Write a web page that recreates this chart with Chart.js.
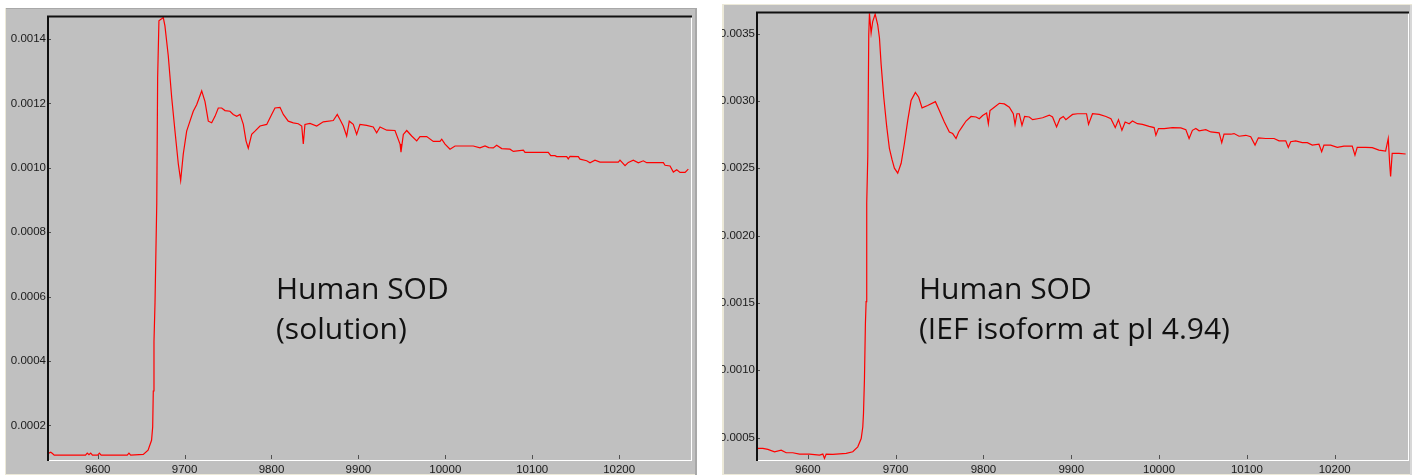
<!DOCTYPE html>
<html>
<head>
<meta charset="utf-8">
<script src="https://cdn.jsdelivr.net/npm/chart.js@4"></script>
<style>
html,body{margin:0;padding:0;background:#fff;width:1414px;height:476px;overflow:hidden;}
.panel{position:absolute;background:#c0c0c0;}
.panel canvas{position:absolute;left:0;top:0;}
.note{position:absolute;font-family:'Open Sans','Noto Sans',sans-serif;font-size:30px;line-height:40px;color:#111;white-space:nowrap;}
</style>
</head>
<body>
<div class="panel" style="left:5px;top:8px;width:692px;height:467px;box-shadow:inset 1px 0 0 #ece9d8, inset 0 1px 0 #a8a8a8, inset -2px 0 0 #a8a8a8, inset 0 -1px 0 #ece9d8;">
  <canvas id="c1" width="692" height="467" style="width:692px;height:467px"></canvas>
</div>
<div class="panel" style="left:722px;top:4px;width:690px;height:471px;box-shadow:inset 2px 0 0 #ece9d8, inset 0 1px 0 #ece9d8, inset -2px 0 0 #d8d8d8, inset 0 -1px 0 #ece9d8;">
  <canvas id="c2" width="690" height="471" style="width:690px;height:471px"></canvas>
</div>
<div class="note" style="left:276px;top:268px;">Human SOD<br>(solution)</div>
<div class="note" style="left:919px;top:268px;">Human SOD<br>(IEF isoform at pI 4.94)</div>

<script>
// ---------- data: Human SOD (solution) ----------
const leftX = [
  9542, 9544, 9546, 9548, 9550, 9586, 9588, 9590, 9592, 9594,
  9600, 9602, 9604, 9634, 9636, 9638, 9652.5, 9658, 9662, 9663.3,
  9664, 9664.8, 9666, 9668, 9669, 9670.5, 9673.6, 9675.5, 9677.4, 9681.2,
  9685.2, 9689, 9692.8, 9695.5, 9698.5, 9702.4, 9706.2, 9710, 9713.9, 9719.7,
  9723.5, 9727.3, 9731.2, 9735, 9738.8, 9742.7, 9746.5, 9752.2, 9756, 9760,
  9763.8, 9767.6, 9770.7, 9773.3, 9777.2, 9781, 9786.8, 9794.5, 9800.2, 9804,
  9809.8, 9813.6, 9819.3, 9825.1, 9830.8, 9834.8, 9836.6, 9838.5, 9844.3, 9852,
  9859.6, 9871.1, 9875.7, 9878.8, 9882.6, 9886.5, 9889.5, 9894.1, 9898, 9901.8,
  9909.5, 9917.1, 9921, 9924.9, 9932.6, 9942.1, 9947.9, 9949, 9951.7, 9955.6,
  9961.3, 9967.1, 9970.9, 9978.6, 9986.2, 9993.9, 9995.9, 9999.7, 10005.4, 10011.2,
  10032.2, 10039.9, 10045.7, 10050, 10055.2, 10059.1, 10064.9, 10074.4, 10078.3, 10089.8,
  10091.7, 10118.5, 10121.3, 10126.2, 10128.2, 10139.7, 10141.5, 10143.5, 10153, 10155,
  10162.7, 10166.5, 10172.2, 10178, 10199.1, 10201, 10206.8, 10210.6, 10216.3, 10222.1,
  10227.8, 10231.7, 10250.9, 10252.8, 10258.6, 10262.4, 10266.3, 10270.1, 10275.9, 10279.6
];
const leftY = [
  0.000118, 0.000114, 0.000117, 0.000113, 0.000108, 0.000108, 0.000114, 0.000109, 0.000114, 0.000108,
  0.000108, 0.000114, 0.000108, 0.000108, 0.000114, 0.000108, 0.000110, 0.000123, 0.000154, 0.000195,
  0.000307, 0.000461, 0.000583, 0.000890, 0.001280, 0.001457, 0.001463, 0.001467, 0.001441, 0.001349,
  0.001218, 0.001113, 0.001012, 0.000961, 0.001043, 0.001114, 0.001145, 0.001176, 0.001196, 0.001239,
  0.001206, 0.001145, 0.001140, 0.001160, 0.001186, 0.001186, 0.001178, 0.001176, 0.001166, 0.001160,
  0.001166, 0.001135, 0.001084, 0.001061, 0.001104, 0.001114, 0.001130, 0.001135, 0.001166, 0.001186,
  0.001188, 0.001166, 0.001145, 0.001140, 0.001137, 0.001130, 0.001074, 0.001135, 0.001138, 0.001130,
  0.001143, 0.001147, 0.001166, 0.001150, 0.001130, 0.001099, 0.001145, 0.001135, 0.001104, 0.001135,
  0.001132, 0.001127, 0.001109, 0.001127, 0.001117, 0.001116, 0.001074, 0.001049, 0.001104, 0.001116,
  0.001099, 0.001084, 0.001097, 0.001097, 0.001082, 0.001082, 0.001089, 0.001074, 0.001058, 0.001068,
  0.001068, 0.001062, 0.001068, 0.001063, 0.001062, 0.001070, 0.001060, 0.001058, 0.001051, 0.001055,
  0.001048, 0.001048, 0.001038, 0.001038, 0.001035, 0.001035, 0.001028, 0.001036, 0.001035, 0.001027,
  0.001022, 0.001016, 0.001024, 0.001018, 0.001018, 0.001024, 0.001007, 0.001017, 0.001024, 0.001016,
  0.001022, 0.001016, 0.001016, 0.001008, 0.001006, 0.000987, 0.000994, 0.000986, 0.000986, 0.000996
];

// ---------- data: Human SOD (IEF isoform at pI 4.94) ----------
const rightX = [
  9541.3, 9543.1, 9548.8, 9554.5, 9562.1, 9569.7, 9575.4, 9582.9, 9590.6, 9601.9,
  9613.3, 9617.1, 9619, 9620.9, 9628.4, 9643.7, 9651.2, 9656.9, 9660.8, 9662.6,
  9663.4, 9664.5, 9665.6, 9666.4, 9667.1, 9668.3, 9669.4, 9670.2, 9672.1, 9673.9,
  9676.7, 9679.6, 9681.6, 9683.5, 9686.5, 9689.9, 9692.9, 9696, 9698.6, 9702.4,
  9706.3, 9710, 9713.8, 9717.6, 9722.5, 9726.3, 9730.1, 9736.5, 9745.3, 9749.8,
  9755.5, 9761.2, 9765, 9768.8, 9771.8, 9775.7, 9780.2, 9785.9, 9791.6, 9795.3,
  9799.1, 9803.6, 9805.6, 9807.5, 9812.4, 9818.1, 9823.8, 9829.5, 9834, 9836,
  9838.2, 9840.8, 9843.9, 9846.9, 9852.2, 9856, 9861.7, 9867.4, 9875, 9878.7,
  9883.3, 9887.1, 9890.9, 9893.9, 9897.7, 9901.5, 9907.2, 9912.9, 9917.4, 9919.7,
  9924.2, 9931.9, 9939.5, 9945.2, 9950.1, 9953.8, 9957.7, 9961.4, 9966, 9969.7,
  9975.4, 9981.1, 9988.7, 9994.4, 9996.4, 9999.3, 10005.8, 10015.2, 10024.8, 10030.5,
  10034.2, 10038, 10041.9, 10045.6, 10053.2, 10058.9, 10068.4, 10071.4, 10074, 10081.7,
  10085.4, 10091.1, 10098.8, 10104.4, 10109.3, 10113.1, 10121.5, 10131, 10136.6, 10144.3,
  10147.2, 10149.9, 10155.6, 10163.1, 10168.8, 10174.5, 10182.1, 10185.2, 10187.8, 10195.4,
  10203, 10210.6, 10220, 10223.1, 10225.7, 10235.3, 10242.8, 10250.4, 10258, 10261,
  10262.6, 10263.7, 10265.5, 10273.2, 10280.8
];
const rightY = [
  0.000394, 0.000419, 0.000419, 0.000412, 0.000394, 0.000406, 0.000387, 0.000387, 0.000377, 0.000377,
  0.000370, 0.000377, 0.000345, 0.000377, 0.000375, 0.000382, 0.000394, 0.000431, 0.000492, 0.000578,
  0.000676, 0.000933, 0.001349, 0.001509, 0.002243, 0.002587, 0.003493, 0.003652, 0.003505, 0.003590,
  0.003645, 0.003566, 0.003468, 0.003272, 0.003028, 0.002807, 0.002648, 0.002562, 0.002501, 0.002464,
  0.002537, 0.002684, 0.002856, 0.003003, 0.003064, 0.003028, 0.002949, 0.002966, 0.002995, 0.002929,
  0.002844, 0.002770, 0.002758, 0.002721, 0.002770, 0.002807, 0.002851, 0.002885, 0.002881, 0.002868,
  0.002892, 0.002910, 0.002831, 0.002929, 0.002954, 0.002983, 0.002978, 0.002954, 0.002905, 0.002826,
  0.002905, 0.002905, 0.002819, 0.002885, 0.002881, 0.002861, 0.002868, 0.002875, 0.002895, 0.002881,
  0.002807, 0.002868, 0.002885, 0.002861, 0.002881, 0.002900, 0.002905, 0.002905, 0.002905, 0.002826,
  0.002905, 0.002900, 0.002885, 0.002868, 0.002802, 0.002861, 0.002782, 0.002844, 0.002831, 0.002851,
  0.002831, 0.002826, 0.002811, 0.002802, 0.002745, 0.002795, 0.002795, 0.002802, 0.002800, 0.002787,
  0.002721, 0.002782, 0.002795, 0.002778, 0.002787, 0.002770, 0.002763, 0.002690, 0.002753, 0.002753,
  0.002758, 0.002738, 0.002745, 0.002734, 0.002672, 0.002726, 0.002721, 0.002721, 0.002704, 0.002704,
  0.002655, 0.002697, 0.002704, 0.002690, 0.002690, 0.002672, 0.002679, 0.002623, 0.002672, 0.002672,
  0.002655, 0.002665, 0.002665, 0.002598, 0.002655, 0.002655, 0.002653, 0.002635, 0.002628, 0.002721,
  0.002537, 0.002440, 0.002611, 0.002611, 0.002606
];

// ---------- tick values and labels ----------
const xTicks = [9600, 9700, 9800, 9900, 10000, 10100, 10200];
const xTickLabels = ['9600', '9700', '9800', '9900', '10000', '10100', '10200'];
const leftYTicks = [0.0002, 0.0004, 0.0006, 0.0008, 0.0010, 0.0012, 0.0014];
const leftYTickLabels = ['0.0002', '0.0004', '0.0006', '0.0008', '0.0010', '0.0012', '0.0014'];
const rightYTicks = [0.0005, 0.0010, 0.0015, 0.0020, 0.0025, 0.0030, 0.0035];
const rightYTickLabels = ['0.0005', '0.0010', '0.0015', '0.0020', '0.0025', '0.0030', '0.0035'];

// ---------- axis ranges ----------
const leftXRange = [9541.7, 10282.7];
const leftYRange = [0.0000927, 0.001472];
const rightXRange = [9541, 10283.5];
const rightYRange = [0.000333, 0.0036616];

const tickFont = {family: "'Liberation Sans', Arial, sans-serif", size: 11.5};

const framePlugin = {
  id: 'frame',
  afterDraw(chart) {
    const {ctx, chartArea: a, scales: {x, y}} = chart;
    ctx.save();
    ctx.strokeStyle = '#505050';
    ctx.lineWidth = 1;
    ctx.beginPath();
    y.ticks.forEach(t => {
      const py = Math.round(y.getPixelForValue(t.value)) + 0.5;
      ctx.moveTo(a.left, py); ctx.lineTo(a.left + 4, py);
    });
    x.ticks.forEach(t => {
      const px = Math.round(x.getPixelForValue(t.value)) + 0.5;
      ctx.moveTo(px, a.bottom - 5); ctx.lineTo(px, a.bottom - 1);
    });
    ctx.stroke();
    ctx.strokeStyle = '#ffffff';
    ctx.beginPath();
    ctx.moveTo(a.left, a.bottom + 0.5); ctx.lineTo(a.right + 1, a.bottom + 0.5);
    ctx.moveTo(a.right + 0.5, a.top); ctx.lineTo(a.right + 0.5, a.bottom + 1);
    ctx.stroke();
    ctx.strokeStyle = '#101010';
    ctx.lineWidth = 2;
    ctx.beginPath();
    ctx.moveTo(a.left + 1, a.bottom + 1);
    ctx.lineTo(a.left + 1, a.top + 0.5);
    ctx.lineTo(a.right + 1, a.top + 0.5);
    ctx.stroke();
    ctx.restore();
  }
};

function makeChart(id, xs, ys, xRange, yRange, yTicks, yLabels, yAxisWidth, pad) {
  const pts = xs.map((v, i) => ({x: v, y: ys[i]}));
  return new Chart(document.getElementById(id), {
    type: 'scatter',
    data: {datasets: [{
      data: pts, showLine: true, borderColor: '#ff0000', borderWidth: 1.2,
      pointRadius: 0, tension: 0, fill: false
    }]},
    options: {
      responsive: false, animation: false, events: [],
      layout: {padding: pad},
      plugins: {legend: {display: false}, tooltip: {enabled: false}},
      scales: {
        x: {
          type: 'linear', min: xRange[0], max: xRange[1],
          grid: {display: false, drawTicks: false}, border: {display: false},
          afterBuildTicks: s => { s.ticks = xTicks.map(v => ({value: v})); },
          afterFit: s => { s.height = 15; },
          ticks: {
            font: tickFont, color: '#1a1a1a', padding: 3, maxRotation: 0, autoSkip: false,
            callback: (v, i) => xTickLabels[i]
          }
        },
        y: {
          type: 'linear', min: yRange[0], max: yRange[1],
          grid: {display: false, drawTicks: false}, border: {display: false},
          afterBuildTicks: s => { s.ticks = yTicks.map(v => ({value: v})); },
          afterFit: s => { s.width = yAxisWidth; },
          ticks: {
            font: tickFont, color: '#1a1a1a', padding: 1, autoSkip: false,
            callback: (v, i) => yLabels[i]
          }
        }
      }
    },
    plugins: [framePlugin]
  });
}

makeChart('c1', leftX, leftY, leftXRange, leftYRange, leftYTicks, leftYTickLabels, 42,
  {left: 0, top: 2, right: 6, bottom: 0});
makeChart('c2', rightX, rightY, rightXRange, rightYRange, rightYTicks, rightYTickLabels, 34,
  {left: 0, top: 3, right: 4, bottom: 0});
</script>
</body>
</html>
